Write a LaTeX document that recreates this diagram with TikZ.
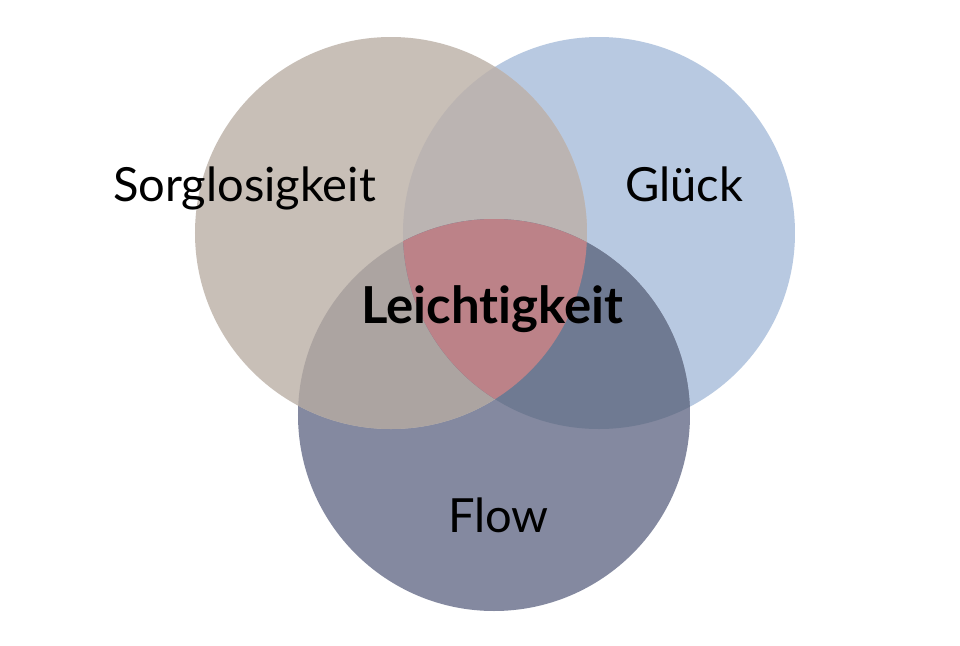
\documentclass[tikz,border=0pt]{standalone}
\usepackage{fontspec}
\setmainfont{Lato}[Ligatures={NoCommon,NoRare}]
\usepackage{tikz}

\definecolor{sorgcol}{HTML}{C8BFB7}
\definecolor{glueckcol}{HTML}{B8C9E1}
\definecolor{flowcol}{HTML}{8489A0}
\definecolor{sgcol}{HTML}{BBB4B2}
\definecolor{sfcol}{HTML}{ACA4A1}
\definecolor{gfcol}{HTML}{6F7A92}
\definecolor{allcol}{HTML}{BC8288}

\tikzset{
  label/.style={font=\fontsize{13.4}{16}\selectfont, anchor=base, inner sep=0pt},
  mainlabel/.style={label, font=\fontsize{14.5}{17}\selectfont\bfseries}
}

\begin{document}
\begin{tikzpicture}
    \useasboundingbox (0,0) rectangle (9.6,-6.46);
    \fill [white] (0,0) rectangle (9.6,-6.46);
    % circles
    \fill [glueckcol] (5.99,-2.33) circle (1.96);
    \fill [flowcol] (4.94,-4.15) circle (1.96);
    \fill [sorgcol] (3.91,-2.33) circle (1.96);
    % pairwise overlaps
    \begin{scope}
        \clip (3.91,-2.33) circle (1.96);
        \fill [sgcol] (5.99,-2.33) circle (1.96);
        \fill [sfcol] (4.94,-4.15) circle (1.96);
    \end{scope}
    \begin{scope}
        \clip (5.99,-2.33) circle (1.96);
        \fill [gfcol] (4.94,-4.15) circle (1.96);
    \end{scope}
    % triple overlap
    \begin{scope}
        \clip (3.91,-2.33) circle (1.96);
        \clip (5.99,-2.33) circle (1.96);
        \fill [allcol] (4.94,-4.15) circle (1.96);
    \end{scope}
    % labels
    \node [label] (sorg) at (2.445,-2.01) {Sorglosigkeit};
    \node [label] (glueck) at (6.84,-2.01) {Glück};
    \node [label] (flow) at (4.985,-5.32) {Flow};
    \node [mainlabel] (leicht) at (4.925,-3.23) {Leicht\kern0pt igkeit};
\end{tikzpicture}
\end{document}
